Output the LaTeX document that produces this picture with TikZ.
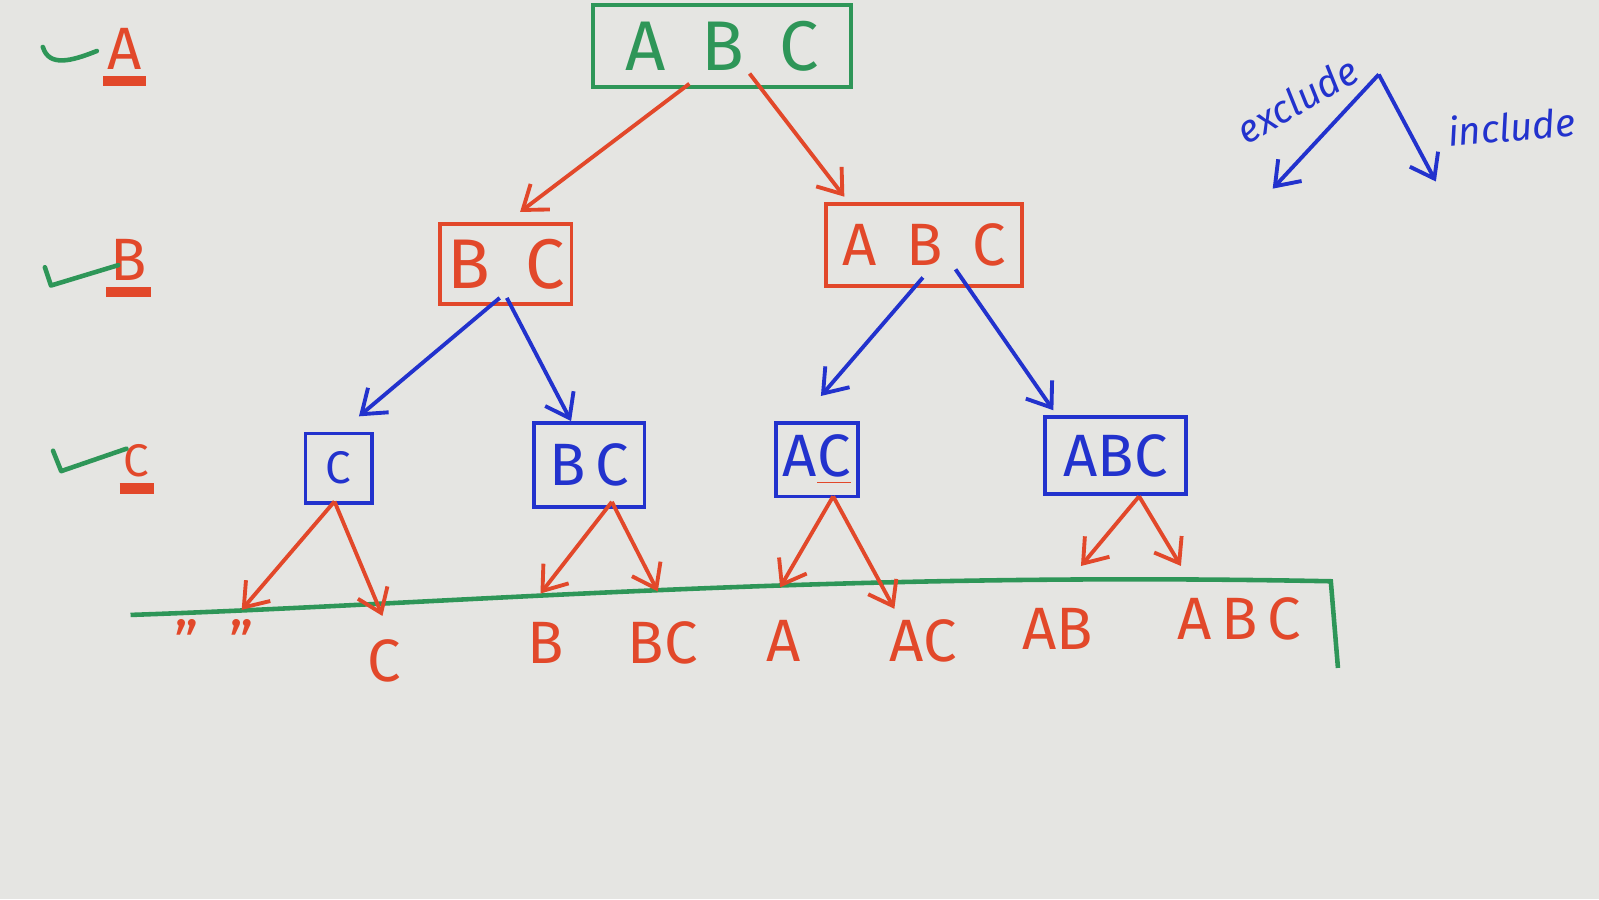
\documentclass[tikz,border=0pt]{standalone}
\usepackage{fontspec}
\setmainfont{Fira Sans}
\usetikzlibrary{arrows.meta,positioning,calc}
\definecolor{mgreen}{RGB}{46,150,88}
\definecolor{mred}{RGB}{226,72,42}
\definecolor{mblue}{RGB}{34,50,205}
\definecolor{board}{RGB}{229,229,226}

\begin{document}
\begin{tikzpicture}[x=0.0102cm,y=-0.0102cm,
 big/.style={font=\fontsize{20}{20}\selectfont},
 mid/.style={font=\fontsize{17}{17}\selectfont},
 small/.style={font=\fontsize{13}{13}\selectfont},
 hand/.style={text=mblue,font=\itshape\fontsize{11}{11}\selectfont},
 box/.style={draw,line width=1.1pt,inner sep=2pt},
 redarr/.style={mred,line width=1.1pt,-{Straight Barb[length=2.2mm,width=3.2mm]}},
 bluearr/.style={mblue,line width=1.1pt,-{Straight Barb[length=2.2mm,width=3.2mm]}},
 leaf/.style={mid,text=mred},
 tick/.style={mgreen,line width=1.3pt,line cap=round,line join=round}]
\useasboundingbox (0,0) rectangle (1568,882);
\fill[board] (0,0) rectangle (1568,882);
% level markers on the left
\node[mid,text=mred,inner sep=1pt] (lA) at (122,48) {A};
\node[mid,text=mred,inner sep=1pt] (lB) at (126,255) {B};
\node[small,text=mred,inner sep=1pt] (lC) at (134,452) {C};
\foreach \l in {lA,lB,lC} \draw[mred,line width=3pt] ([yshift=-2pt]\l.south west) -- ([yshift=-2pt]\l.south east);
\draw[tick] (42,46) .. controls (48,66) and (70,60) .. (95,50);
\draw[tick] (44,262) -- (50,280) -- (116,260);
\draw[tick] (52,442) -- (60,462) -- (124,440);
% tree
\node[box,mgreen,big,minimum width=2.58cm,minimum height=0.82cm] (root) at (708,45) {A\enspace B\enspace C};
\node[box,mred,big,minimum width=1.3cm,minimum height=0.8cm] (bc) at (496,259) {B\enspace C};
\node[box,mred,mid,minimum width=1.96cm,minimum height=0.82cm] (abc) at (906,240) {A\enspace B\enspace C};
\node[box,mblue,small,minimum width=0.66cm,minimum height=0.69cm] (c3) at (332,459) {C};
\node[box,mblue,mid,minimum width=1.1cm,minimum height=0.84cm] (bc3) at (578,456) {B\,C};
\node[box,mblue,mid,minimum width=0.79cm,minimum height=0.73cm] (ac3) at (801,451) {A{\color{mred}\underline{\color{mblue}C}}};
\node[box,mblue,mid,minimum width=1.41cm,minimum height=0.77cm] (abc3) at (1094,447) {ABC};
\draw[redarr] ($(root.south)+(-32,-5)$) -- ($(bc.north)+(14,-10)$);
\draw[redarr] ($(root.south)+(27,-15)$) -- ($(abc.north west)+(20,-5)$);
\draw[bluearr] ($(bc.south)+(-6,-8)$) -- ($(c3.north)+(20,-15)$);
\draw[bluearr] ($(bc.south)+(1,-8)$) -- ($(bc3.north)+(-18,0)$);
\draw[bluearr] ($(abc.south)+(-1,-10)$) -- ($(ac3.north)+(4,-25)$);
\draw[bluearr] ($(abc.south)+(31,-18)$) -- ($(abc3.north west)+(10,-5)$);
% leaves
\draw[mgreen,line width=1.3pt] (128,603) .. controls (450,592) and (800,560) .. (1305,570) -- (1312,655);
\coordinate (e1) at (237,598); \coordinate (e2) at (375,604);
\coordinate (e3) at (530,582); \coordinate (e4) at (645,580);
\coordinate (e5) at (765,576); \coordinate (e6) at (877,597);
\coordinate (e7) at (1060,555); \coordinate (e8) at (1158,555);
\draw[redarr] ($(c3.south)+(-4,-3)$) -- (e1); \draw[redarr] ($(c3.south)+(-4,-3)$) -- (e2);
\draw[redarr] ($(bc3.south)+(22,-7)$) -- (e3); \draw[redarr] ($(bc3.south)+(22,-7)$) -- (e4);
\draw[redarr] ($(ac3.south)+(16,-2)$) -- (e5); \draw[redarr] ($(ac3.south)+(16,-2)$) -- (e6);
\draw[redarr] ($(abc3.south)+(23,0)$) -- (e7); \draw[redarr] ($(abc3.south)+(23,0)$) -- (e8);
\node[leaf] (lf1) at (210,630) {"\enspace"};
\node[leaf] (lf2) at (377,648) {C};
\node[leaf] (lf3) at (535,630) {B};
\node[leaf] (lf4) at (650,630) {BC};
\node[leaf] (lf5) at (768,628) {A};
\node[leaf] (lf6) at (905,628) {AC};
\node[leaf] (lf7) at (1037,617) {AB};
\node[leaf] (lf8) at (1215,607) {A\,B\,C};
% legend
\coordinate (apex) at (1352,73); \coordinate (exc) at (1248,185); \coordinate (inc) at (1408,178);
\draw[bluearr] (apex) -- (exc);
\draw[bluearr] (apex) -- (inc);
\node[hand,rotate=30] (excl) at (1272,98) {exclude};
\node[hand,rotate=5] (incl) at (1482,124) {include};
\end{tikzpicture}
\end{document}
